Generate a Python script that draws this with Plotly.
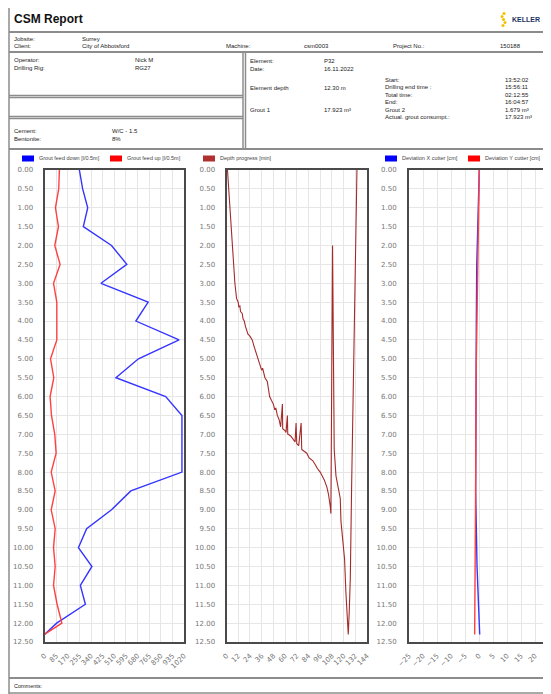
import plotly.graph_objects as go

# figure size chosen so the page (with its 8px body margin) fits the 551x694 window
W, H = 543, 686

# ---------------- data ----------------
feed_depth = [0.0, 0.5, 1.0, 1.5, 2.0, 2.5, 3.0, 3.5, 4.0, 4.5, 5.0, 5.5, 6.0,
              6.5, 7.0, 7.5, 8.0, 8.5, 9.0, 9.5, 10.0, 10.5, 11.0, 11.5, 12.0, 12.3]
feed_down = [255, 279, 316, 284, 490, 602, 413, 758, 668, 984, 687, 522, 886,
             1005, 1005, 1005, 1005, 631, 490, 308, 248, 347, 262, 299, 89, 0]
feed_up = [109, 104, 80, 102, 75, 114, 66, 90, 90, 90, 44, 68, 41,
           51, 75, 85, 49, 78, 49, 78, 66, 78, 66, 92, 127, 0]

progress_min = [1.0, 3.4, 5.5, 7.2, 8.6, 10.3, 11.2, 12.0, 12.6, 13.7, 14.4, 16.1, 17.0, 18.2,
                19.5, 21.3, 22.0, 24.0, 26.4, 28.0, 29.8, 32.6, 34.5, 36.0, 37.0, 39.4, 41.8,
                44.2, 46.0, 48.0, 49.5, 50.5, 52.1, 53.8, 55.5, 57.3, 57.6, 59.9, 61.0,
                62.4, 62.8, 63.4, 66.0, 68.5, 70.3, 71.3, 72.0, 74.0, 76.5, 77.1, 80.0,
                82.3, 84.5, 86.4, 88.5, 90.9, 93.0, 96.0, 98.0, 100.1, 102.9, 104.6,
                106.3, 107.0, 108.7, 109.4, 109.7, 110.4, 112.2, 114.9, 116.6, 117.3,
                119.3, 121.0, 122.4, 123.4, 124.8, 125.8, 126.9, 128.2, 129.2, 130.3,
                130.9, 132.0, 133.0, 133.7]
progress_depth = [0.0, 1.0, 2.0, 2.5, 3.0, 3.4, 3.45, 3.5, 3.62, 3.6, 3.75, 3.8, 3.95, 4.0,
                  4.15, 4.3, 4.35, 4.4, 4.5, 4.65, 4.8, 5.0, 5.2, 5.3, 5.25, 5.5, 5.6,
                  6.0, 6.1, 6.2, 6.35, 6.3, 6.5, 6.6, 6.8, 6.2, 6.85, 6.9, 6.95,
                  6.5, 7.0, 7.0, 7.05, 7.15, 7.2, 6.7, 7.25, 7.3, 6.7, 7.4, 7.45,
                  7.5, 7.62, 7.65, 7.7, 7.8, 7.9, 8.0, 8.1, 8.2, 8.4, 8.6,
                  8.9, 9.1, 2.0, 5.3, 7.1, 7.4, 8.1, 8.45, 8.7, 9.3,
                  9.8, 10.3, 11.2, 11.6, 12.3, 11.7, 10.8, 8.45, 6.9, 5.56,
                  5.0, 3.4, 0.86, 0.0]

dev_depth = [0.0, 1.0, 2.5, 4.0, 5.5, 8.5, 10.5, 12.3]
dev_x = [0.1, -0.2, -0.8, -0.95, -1.1, -1.2, -0.7, 0.25]
dev_y = [0.1, -0.1, -0.4, -0.8, -1.05, -1.2, -1.3, -1.55]

depth_ticks = [i * 0.5 for i in range(26)]
feed_ticks = list(range(0, 1021, 85))
time_ticks = list(range(0, 145, 12))
dev_ticks = list(range(-25, 26, 5))

title_text = "CSM Report"
header_rows = [  # (label, value) pairs
    ("Jobsite:", "Surrey"), ("Client:", "City of Abbotsford")]
machine = ("Machine:", "csm0003")
project = ("Project No.:", "150188")
left_info = [("Operator:", "Nick M"), ("Drilling Rig:", "RG27")]
mix_info = [("Cement:", "W/C - 1.5"), ("Bentonite:", "8%")]
element_info = [("Element:", "P32"), ("Date:", "16.11.2022"),
                ("Element depth", "12.30 m"), ("Grout 1", "17.923 m³")]
time_info = [("Start:", "13:52:02"), ("Drilling end time :", "15:56:11"),
             ("Total time:", "02:12:55"), ("End:", "16:04:57"),
             ("Grout 2", "1.679 m³"), ("Actual. grout consumpt.:", "17.923 m³")]
legend1 = ["Grout feed down [l/0.5m]", "Grout feed up [l/0.5m]"]
legend2 = ["Depth progress [min]"]
legend3 = ["Deviation X cutter [cm]", "Deviation Y cutter [cm]"]

BLUE = "#3535ff"
RED = "#ff4040"
BROWN = "#a52a2a"

# ---------------- helpers ----------------
# the page body adds an 8px offset; positions below are given in window pixels
OFF = 8

def px(x):
    return (x - OFF) / W

def py(y):
    return 1 - (y - OFF) / H

fig = go.Figure()

fig.add_trace(go.Scatter(x=feed_down, y=feed_depth, mode="lines",
                         line=dict(color=BLUE, width=1.4), xaxis="x", yaxis="y",
                         name=legend1[0]))
fig.add_trace(go.Scatter(x=feed_up, y=feed_depth, mode="lines",
                         line=dict(color=RED, width=1.4), xaxis="x", yaxis="y",
                         name=legend1[1]))
fig.add_trace(go.Scatter(x=progress_min, y=progress_depth, mode="lines",
                         line=dict(color=BROWN, width=1.1), xaxis="x2", yaxis="y2",
                         name=legend2[0]))
fig.add_trace(go.Scatter(x=dev_x, y=dev_depth, mode="lines",
                         line=dict(color=BLUE, width=1.4), xaxis="x3", yaxis="y3",
                         name=legend3[0]))
fig.add_trace(go.Scatter(x=dev_y, y=dev_depth, mode="lines",
                         line=dict(color=RED, width=1.4), xaxis="x3", yaxis="y3",
                         name=legend3[1]))

tickfont = dict(family="DejaVu Sans", size=7, color="#777")
ydom = [py(642), py(170)]

def xax(domain, rng, ticks, anchor):
    return dict(domain=domain, range=rng, tickvals=ticks, tickangle=-45, anchor=anchor,
                showgrid=True, gridcolor="#e6e6e6", gridwidth=1, zeroline=False,
                showline=True, linecolor="#4a4a4a", linewidth=2, mirror=True,
                ticks="outside", ticklen=5, tickcolor="rgba(0,0,0,0)",
                tickfont=tickfont, fixedrange=True, automargin=False)

def yax(anchor, standoff):
    return dict(domain=ydom, range=[12.5, 0], tickvals=depth_ticks, tickformat=".2f",
                anchor=anchor, showgrid=True, gridcolor="#e6e6e6", gridwidth=1,
                zeroline=False, showline=True, linecolor="#4a4a4a", linewidth=2,
                mirror=True, ticks="outside", ticklen=standoff,
                tickcolor="rgba(0,0,0,0)", tickfont=tickfont, fixedrange=True,
                automargin=False)

shapes = []
annotations = []

def hline(y, x0, x1, w=1.5, c="#8c8c8c"):
    shapes.append(dict(type="line", xref="paper", yref="paper", x0=px(x0), x1=px(x1),
                       y0=py(y), y1=py(y), line=dict(color=c, width=w)))

def vline(x, y0, y1, w=1.5, c="#8c8c8c"):
    shapes.append(dict(type="line", xref="paper", yref="paper", x0=px(x), x1=px(x),
                       y0=py(y0), y1=py(y1), line=dict(color=c, width=w)))

def text(x, y, s, size=6, bold=False, color="#222", family="Liberation Sans"):
    annotations.append(dict(x=px(x), y=py(y), xref="paper", yref="paper",
                            text=("<b>" + s + "</b>") if bold else s,
                            showarrow=False, xanchor="left", yanchor="middle",
                            font=dict(size=size, color=color, family=family)))

# page frame
hline(4.5, 9, 560)
vline(9, 4.5, 700)
hline(32, 9, 560, w=2)
hline(52, 9, 560, w=2)
vline(243, 52, 149)
vline(245.5, 52, 149)
hline(95.5, 9, 243)
hline(97.5, 9, 243)
hline(116.5, 9, 243)
hline(118.5, 9, 243)
hline(149, 9, 560, w=2)
hline(678, 9, 560, w=2)
hline(693, 9, 560, w=1.5)

# title + logo
text(12, 19, title_text, size=12, bold=True, color="#111")
text(510, 19.5, "KELLER", size=7, bold=True, color="#1d3461")
for (cx, cy, r) in [(504, 13.5, 1.6), (502, 16.5, 1.5), (503.5, 19.5, 1.6),
                    (505, 22.5, 1.5), (503, 25.5, 1.6)]:
    shapes.append(dict(type="circle", xref="paper", yref="paper", x0=px(cx - r), x1=px(cx + r),
                       y0=py(cy + r), y1=py(cy - r), fillcolor="#f2c200",
                       line=dict(width=0)))

# header rows
for i, (lab, val) in enumerate(header_rows):
    yy = 39 + i * 7
    text(12, yy, lab)
    text(80, yy, val)
text(224, 46, machine[0])
text(302, 46, machine[1])
text(391, 46, project[0])
text(498, 46, project[1])

for i, (lab, val) in enumerate(left_info):
    yy = 60 + i * 8.5
    text(12, yy, lab)
    text(133, yy, val)
for i, (lab, val) in enumerate(mix_info):
    yy = 131.5 + i * 7.5
    text(12, yy, lab)
    text(110, yy, val)

el_y = [61, 69, 88, 110]
for (lab, val), yy in zip(element_info, el_y):
    text(248, yy, lab)
    text(322, yy, val)
for i, (lab, val) in enumerate(time_info):
    yy = 80 + i * 7.4
    text(383, yy, lab)
    text(503, yy, val)

text(12, 686, "Comments:", size=5.5)

# legends
def legend_item(x, y, color, label):
    shapes.append(dict(type="rect", xref="paper", yref="paper", x0=px(x), x1=px(x + 12),
                       y0=py(y + 3), y1=py(y - 3), fillcolor=color, line=dict(width=0)))
    text(x + 15, y, label, size=5.5, color="#444")

legend_item(22, 158.5, "#0000ff", legend1[0])
legend_item(110, 158.5, "#ff0000", legend1[1])
legend_item(203, 158.5, "#b03030", legend2[0])
legend_item(385, 158.5, "#0000ff", legend3[0])
legend_item(468, 158.5, "#ff0000", legend3[1])

fig.update_layout(
    width=W, height=H, margin=dict(l=0, r=0, t=0, b=0, autoexpand=False),
    paper_bgcolor="white", plot_bgcolor="white", showlegend=False,
    xaxis=xax([px(44.5), px(184)], [0, 1020], feed_ticks, "y"),
    yaxis=yax("x", 8),
    xaxis2=xax([px(226.5), px(367)], [0, 144], time_ticks, "y2"),
    yaxis2=yax("x2", 8),
    xaxis3=xax([px(409), min(1.0, px(549))], [-25, 25], dev_ticks, "y3"),
    yaxis3=yax("x3", 9),
    shapes=shapes, annotations=annotations,
)

fig.write_html("out.html")
